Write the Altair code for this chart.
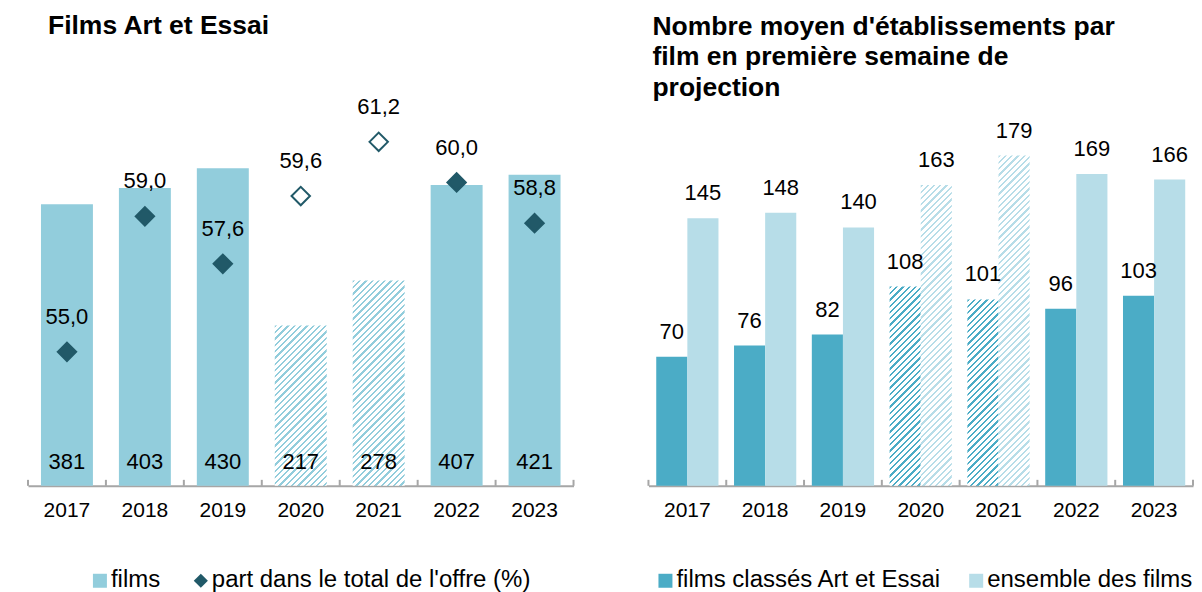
import altair as alt

# ---------------- data ----------------
years = ["2017", "2018", "2019", "2020", "2021", "2022", "2023"]
films = [381, 403, 430, 217, 278, 407, 421]
part_offre = [55.0, 59.0, 57.6, 59.6, 61.2, 60.0, 58.8]
etab_art_essai = [70, 76, 82, 108, 101, 96, 103]
etab_ensemble = [145, 148, 140, 163, 179, 169, 166]
hatched_years = ["2020", "2021"]

# ---------------- style ----------------
FONT = "Liberation Sans"
C_FILMS = "#92CDDC"
C_PART = "#215968"
C_AE = "#4BACC6"
C_ALL = "#B7DDE8"
C_AXIS = "#A6A6A6"

PW_L, PW_R, PH = 546, 545, 385
L_MAX = PH / 0.7395
R_MAX = PH / 1.847
P_MIN = 51.044
P_MAX = P_MIN + PH / 33.9

BW_L = PW_L / 7 * (1 - 1 / 3)
BW_R = PW_R / 7 * 0.8 / 2


def hatch(color, w, h, period=6.3, frac=0.36):
    """diagonal '/' hatch emulated with a hard-stop linear gradient"""
    t = (w + h) * w * h / (w * w + h * h)
    p = period / (w + h)
    n = int(1 / p) + 2
    stops = []
    for k in range(n):
        a, b, c = k * p, k * p + frac * p, (k + 1) * p
        stops += [
            {"offset": min(a, 1), "color": color},
            {"offset": min(b, 1), "color": color},
            {"offset": min(b, 1), "color": "white"},
            {"offset": min(c, 1), "color": "white"},
        ]
    return {"gradient": "linear", "x1": 0, "y1": 0, "x2": t / h, "y2": t / w, "stops": stops}


left_rows = []
for y, f, p in zip(years, films, part_offre):
    h = y in hatched_years
    left_rows.append({
        "year": y,
        "films": f,
        "zero": 0,
        "part": p,
        "part_label": f"{p:.1f}".replace(".", ","),
        "bfill": hatch(C_FILMS, BW_L, f * PH / L_MAX) if h else C_FILMS,
        "dfill": "white" if h else C_PART,
    })

right_rows = []
for y, a, e in zip(years, etab_art_essai, etab_ensemble):
    h = y in hatched_years
    right_rows.append({"year": y, "series": "ae", "value": a,
                       "bfill": hatch(C_AE, BW_R, a * PH / R_MAX) if h else C_AE})
    right_rows.append({"year": y, "series": "all", "value": e,
                       "bfill": hatch(C_ALL, BW_R, e * PH / R_MAX) if h else C_ALL})

bounds = [{"b": b} for b in range(len(years) + 1)]
one = alt.Data(values=[{"k": 0}])

axis_x = alt.Axis(title=None, labelAngle=0)


def tick_rules():
    return alt.Chart(alt.Data(values=bounds)).mark_rule(color=C_AXIS, strokeWidth=2).encode(
        x=alt.X("b:Q", scale=alt.Scale(domain=[0, len(years)], nice=False, zero=False), axis=None),
        y=alt.value(PH),
        y2=alt.value(PH - 6),
    )


def ltext(txt, x, y):
    return alt.Chart(one).mark_text(text=txt, align="left", baseline="middle", font=FONT,
                                    fontSize=24, color="black").encode(x=alt.value(x), y=alt.value(y))


def lsquare(color, x, y):
    return alt.Chart(one).mark_square(color=color, size=196, filled=True, opacity=1).encode(
        x=alt.value(x), y=alt.value(y))


# ---------------- left panel ----------------
ldata = alt.Data(values=left_rows)
xl_scale = alt.Scale(domain=years, paddingInner=1 / 3, paddingOuter=1 / 6)

bars_l = alt.Chart(ldata).mark_bar().encode(
    x=alt.X("year:N", scale=xl_scale, axis=axis_x),
    y=alt.Y("films:Q", scale=alt.Scale(domain=[0, L_MAX], nice=False), axis=None),
    fill=alt.Fill("bfill:N", scale=None),
)
vals_l = alt.Chart(ldata).mark_text(font=FONT, fontSize=22, color="black", baseline="middle", dy=-24).encode(
    x=alt.X("year:N", scale=xl_scale, axis=None),
    y=alt.Y("zero:Q", scale=alt.Scale(domain=[0, L_MAX], nice=False), axis=None),
    text="films:Q",
)
pscale = alt.Scale(domain=[P_MIN, P_MAX], nice=False, zero=False)
pts_l = alt.Chart(ldata).mark_point(shape="diamond", filled=True, size=340, stroke=C_PART,
                                    strokeWidth=2, opacity=1).encode(
    x=alt.X("year:N", scale=xl_scale, axis=None),
    y=alt.Y("part:Q", scale=pscale, axis=None),
    fill=alt.Fill("dfill:N", scale=None),
)
plab_l = alt.Chart(ldata).mark_text(font=FONT, fontSize=22, color="black", baseline="middle", dy=-35).encode(
    x=alt.X("year:N", scale=xl_scale, axis=None),
    y=alt.Y("part:Q", scale=pscale, axis=None),
    text="part_label:N",
)
leg_dia = alt.Chart(one).mark_point(shape="diamond", filled=True, size=200, color=C_PART, opacity=1).encode(
    x=alt.value(173), y=alt.value(480))

left = alt.layer(
    bars_l, vals_l, pts_l, plab_l, tick_rules(),
    lsquare(C_FILMS, 72, 480), ltext("films", 83, 479),
    leg_dia, ltext("part dans le total de l'offre (%)", 184, 479),
).resolve_scale(x="independent", y="independent").properties(
    width=PW_L, height=PH,
    title=alt.TitleParams(text="Films Art et Essai", anchor="start", frame="group", font=FONT,
                          fontSize=26.5, fontWeight="bold", color="black", dx=20,
                          baseline="alphabetic", offset=35),
)

# ---------------- right panel ----------------
rdata = alt.Data(values=right_rows)
xr_scale = alt.Scale(domain=years, paddingInner=0.2, paddingOuter=0.1)
xo = alt.XOffset("series:N", scale=alt.Scale(domain=["ae", "all"], paddingInner=0, paddingOuter=0))
yr_scale = alt.Scale(domain=[0, R_MAX], nice=False)

bars_r = alt.Chart(rdata).mark_bar().encode(
    x=alt.X("year:N", scale=xr_scale, axis=axis_x),
    xOffset=xo,
    y=alt.Y("value:Q", scale=yr_scale, axis=None),
    fill=alt.Fill("bfill:N", scale=None),
)
vals_r = alt.Chart(rdata).mark_text(font=FONT, fontSize=22, color="black", baseline="middle", dy=-25).encode(
    x=alt.X("year:N", scale=xr_scale, axis=None),
    xOffset=xo,
    y=alt.Y("value:Q", scale=yr_scale, axis=None),
    text="value:Q",
)

right = alt.layer(
    bars_r, vals_r, tick_rules(),
    lsquare(C_AE, 17, 480), ltext("films classés Art et Essai", 28, 479),
    lsquare(C_ALL, 328, 480), ltext("ensemble des films", 339, 479),
).resolve_scale(x="independent", y="independent").properties(
    width=PW_R, height=PH,
    title=alt.TitleParams(text=["Nombre moyen d'établissements par", "film en première semaine de", "projection"],
                          anchor="start", frame="group", font=FONT, fontSize=26.5, fontWeight="bold",
                          color="black", dx=4, lineHeight=30.5, baseline="alphabetic", offset=-21),
)

chart = alt.hconcat(left, right, spacing=75, bounds="flush").properties(
    padding={"left": 19, "top": 5, "right": 0, "bottom": 0},
    background="white",
).configure_view(strokeWidth=0).configure_axis(
    labelFont=FONT, labelFontSize=21, labelColor="black", domainColor=C_AXIS, domainWidth=2,
    ticks=False, labelPadding=14, grid=False,
)

chart.save("out.html", embed_options={"renderer": "svg", "actions": False})
